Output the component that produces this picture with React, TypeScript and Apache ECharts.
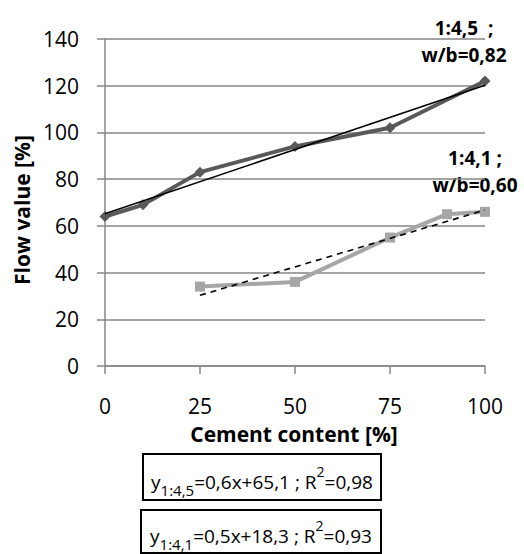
import React, { useEffect, useRef } from "react";
import * as echarts from "echarts";

// Cement content [%] and measured flow values [%]
const cementA = [0, 10, 25, 50, 75, 100];
const flowA = [64, 69, 83, 94, 102, 122];
const cementB = [25, 50, 75, 90, 100];
const flowB = [34, 36, 55, 65, 66];

const xTicks = [0, 25, 50, 75, 100];
const yTicks = [0, 20, 40, 60, 80, 100, 120, 140];

const labelA = ["1:4,5  ;", "w/b=0,82"];
const labelB = ["1:4,1 ;", "w/b=0,60"];
const eqA = ["y", "1:4,5", "=0,6x+65,1 ; R", "2", "=0,98"];
const eqB = ["y", "1:4,1", "=0,5x+18,3 ; R", "2", "=0,93"];

const FONT = "'Open Sans', 'DejaVu Sans', sans-serif";

// least-squares linear fit, as in a spreadsheet trendline
function fit(xs: number[], ys: number[]) {
  const n = xs.length;
  const mx = xs.reduce((a, b) => a + b, 0) / n;
  const my = ys.reduce((a, b) => a + b, 0) / n;
  let sxy = 0;
  let sxx = 0;
  for (let i = 0; i < n; i++) {
    sxy += (xs[i] - mx) * (ys[i] - my);
    sxx += (xs[i] - mx) * (xs[i] - mx);
  }
  const k = sxy / sxx;
  return { k, b: my - k * mx };
}

function trend(xs: number[], ys: number[]) {
  const { k, b } = fit(xs, ys);
  const x0 = Math.min(...xs);
  const x1 = Math.max(...xs);
  return [
    [x0, k * x0 + b],
    [x1, k * x1 + b],
  ];
}

function eqText(parts: string[]) {
  return `{n|${parts[0]}}{sub|${parts[1]}}{n|${parts[2]}}{sup|${parts[3]}}{n|${parts[4]}}`;
}

const eqRich = {
  n: { fontSize: 19, fontFamily: FONT, color: "#000", lineHeight: 30, verticalAlign: "bottom" },
  sub: { fontSize: 15, fontFamily: FONT, color: "#000", lineHeight: 30, verticalAlign: "bottom", padding: [0, 0, -6, 0] },
  sup: { fontSize: 14, fontFamily: FONT, color: "#000", lineHeight: 30, verticalAlign: "top", padding: [3, 0, 0, 0] },
};

export default function App() {
  const ref = useRef<HTMLDivElement>(null);

  useEffect(() => {
    if (!ref.current) return;
    const chart = echarts.init(ref.current, null, { renderer: "svg" });
    const gray = "#868686";

    chart.setOption({
      animation: false,
      backgroundColor: "#fff",
      grid: { left: 105, right: 39, top: 39, bottom: 188, containLabel: false },
      xAxis: {
        type: "value",
        min: xTicks[0],
        max: xTicks[xTicks.length - 1],
        interval: xTicks[1] - xTicks[0],
        axisLine: { show: true, lineStyle: { color: gray, width: 1.5 } },
        axisTick: { show: true, length: 8, lineStyle: { color: gray, width: 1.5 } },
        splitLine: { show: false },
        axisLabel: { margin: 29, fontSize: 21, lineHeight: 22, fontFamily: FONT, color: "#000" },
      },
      yAxis: {
        type: "value",
        min: yTicks[0],
        max: yTicks[yTicks.length - 1],
        interval: yTicks[1] - yTicks[0],
        axisLine: { show: true, lineStyle: { color: gray, width: 1.5 } },
        axisTick: { show: true, length: 8, lineStyle: { color: gray, width: 1.5 } },
        splitLine: { show: true, lineStyle: { color: gray, width: 1.5 } },
        axisLabel: { margin: 26, fontSize: 21, fontFamily: FONT, color: "#000" },
      },
      series: [
        {
          type: "line",
          data: trend(cementA, flowA),
          symbol: "none",
          lineStyle: { color: "#000", width: 1.6 },
          z: 3,
        },
        {
          type: "line",
          data: trend(cementB, flowB),
          symbol: "none",
          lineStyle: { color: "#000", width: 1.6, type: [6, 5] },
          z: 3,
        },
        {
          type: "line",
          data: cementA.map((x, i) => [x, flowA[i]]),
          symbol: "diamond",
          symbolSize: 11,
          lineStyle: { color: "#595959", width: 4 },
          itemStyle: { color: "#595959" },
          z: 2,
        },
        {
          type: "line",
          data: cementB.map((x, i) => [x, flowB[i]]),
          symbol: "rect",
          symbolSize: 10,
          lineStyle: { color: "#a6a6a6", width: 4 },
          itemStyle: { color: "#a6a6a6" },
          z: 2,
        },
      ],
      graphic: [
        {
          type: "text",
          x: 22,
          y: 210,
          rotation: Math.PI / 2,
          style: {
            text: "Flow value [%]",
            fontSize: 21,
            fontWeight: "bold",
            fontFamily: FONT,
            fill: "#000",
            align: "center",
            verticalAlign: "middle",
          },
        },
        {
          type: "text",
          x: 294,
          y: 434,
          style: {
            text: "Cement content [%]",
            fontSize: 21,
            lineHeight: 22,
            fontWeight: "bold",
            fontFamily: FONT,
            fill: "#000",
            align: "center",
            verticalAlign: "middle",
          },
        },
        {
          type: "text",
          x: 464,
          y: 41,
          style: {
            text: labelA.join("\n"),
            fontSize: 19,
            lineHeight: 27,
            fontWeight: "bold",
            fontFamily: FONT,
            fill: "#000",
            align: "center",
            verticalAlign: "middle",
          },
        },
        {
          type: "text",
          x: 475,
          y: 171,
          style: {
            text: labelB.join("\n"),
            fontSize: 19,
            lineHeight: 27,
            fontWeight: "bold",
            fontFamily: FONT,
            fill: "#000",
            align: "center",
            verticalAlign: "middle",
          },
        },
        {
          type: "rect",
          shape: { x: 143, y: 454, width: 238, height: 46 },
          style: { fill: "none", stroke: "#000", lineWidth: 2 },
        },
        {
          type: "rect",
          shape: { x: 141, y: 510, width: 240, height: 43 },
          style: { fill: "none", stroke: "#000", lineWidth: 2 },
        },
        {
          type: "text",
          x: 262,
          y: 476,
          style: {
            text: eqText(eqA),
            rich: eqRich,
            align: "center",
            verticalAlign: "middle",
          },
        },
        {
          type: "text",
          x: 261,
          y: 530,
          style: {
            text: eqText(eqB),
            rich: eqRich,
            align: "center",
            verticalAlign: "middle",
          },
        },
      ],
    });

    return () => chart.dispose();
  }, []);

  return (
    <div
      ref={ref}
      style={{ position: "fixed", left: 0, top: 0, width: 524, height: 554 }}
    />
  );
}
